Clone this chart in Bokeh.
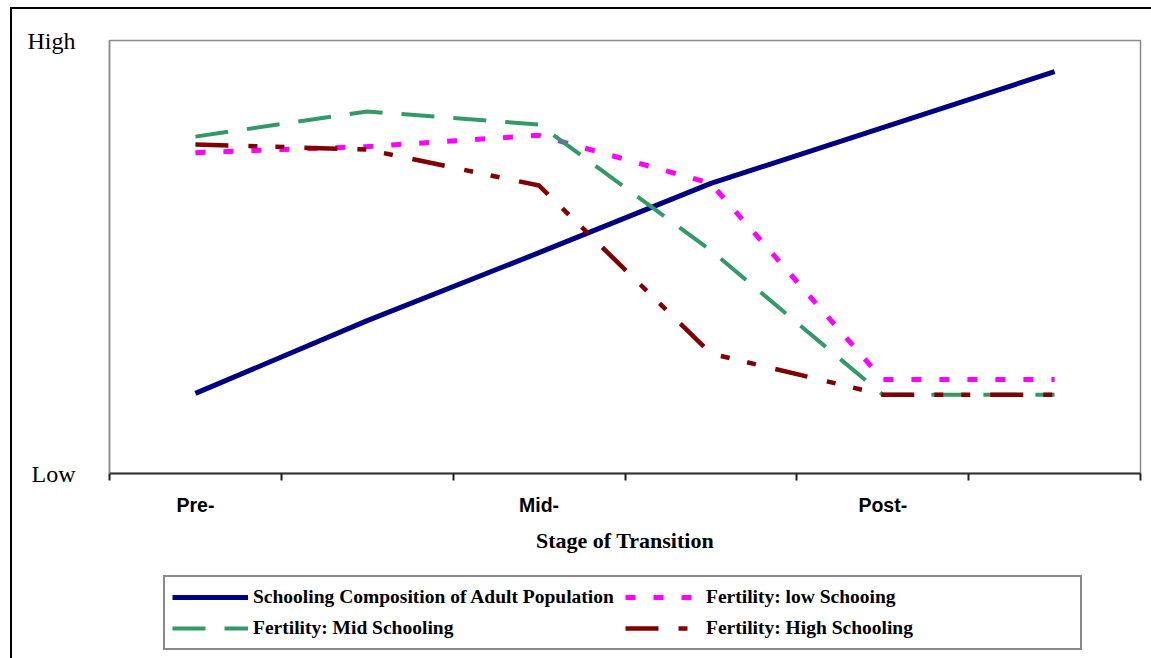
from bokeh.plotting import figure
from bokeh.layouts import column
from bokeh.models import (FixedTicker, Legend, LegendItem, Range1d)
from bokeh.embed import file_html
from bokeh.resources import INLINE

# ---- data (0 = Low, 10 = High) ----
stages = ["Pre-", "", "Mid-", "", "Post-", ""]
schooling = [1.85, 3.53, 5.10, 6.70, 7.99, 9.28]
fert_low = [7.41, 7.55, 7.81, 6.70, 2.17, 2.17]
fert_mid = [7.78, 8.36, 8.06, 5.15, 1.82, 1.82]
fert_high = [7.60, 7.48, 6.65, 2.77, 1.82, 1.82]
y_tick_labels = {0: "Low", 10: "High"}
x_title = "Stage of Transition"
legend_labels = ["Schooling Composition of Adult Population",
                 "Fertility: low Schooing",
                 "Fertility: Mid Schooling",
                 "Fertility: High Schooling"]
all_series = [schooling, fert_low, fert_mid, fert_high]

styles = [dict(line_color="#000080", line_width=5),
          dict(line_color="#FF00FF", line_width=5, line_dash="10 18"),
          dict(line_color="#339966", line_width=4, line_dash="33 19"),
          dict(line_color="#800000", line_width=4.5, line_dash="33 20 9 18 9 20")]

x = [i + 0.5 for i in range(len(stages))]

# canvas starts at (12, 9) in the window: 10/7 px margin + 2 px frame border
p = figure(width=1139, height=551, output_backend="svg", toolbar_location=None,
           x_range=Range1d(0, len(stages)), y_range=Range1d(0, 10),
           min_border_left=97, min_border_right=11, min_border_top=31,
           min_border_bottom=87)
p.background_fill_color = "white"
p.border_fill_color = "white"
p.outline_line_color = "#8a8a8a"
p.outline_line_width = 1.5
p.grid.visible = False

# x axis
xa = p.xaxis[0]
label_pos = [x[i] for i, s in enumerate(stages) if s]
xa.ticker = FixedTicker(ticks=label_pos, minor_ticks=list(range(len(stages) + 1)))
xa.major_label_overrides = {x[i]: s for i, s in enumerate(stages) if s}
xa.major_tick_line_color = None
xa.minor_tick_line_color = "#222222"
xa.minor_tick_line_width = 2
xa.minor_tick_out = 7
xa.minor_tick_in = 0
xa.axis_line_color = "#333333"
xa.axis_line_width = 2
xa.major_label_text_font = "Liberation Sans"
xa.major_label_text_font_style = "bold"
xa.major_label_text_font_size = "19.5px"
xa.major_label_text_color = "black"
xa.major_label_standoff = 13
xa.axis_label = x_title
xa.axis_label_text_font = "Liberation Serif"
xa.axis_label_text_font_style = "bold"
xa.axis_label_text_font_size = "22px"
xa.axis_label_text_color = "black"
xa.axis_label_standoff = 9

# y axis
ya = p.yaxis[0]
ya.ticker = FixedTicker(ticks=list(y_tick_labels.keys()))
ya.major_label_overrides = y_tick_labels
ya.major_tick_line_color = None
ya.minor_tick_line_color = None
ya.axis_line_color = "#8a8a8a"
ya.axis_line_width = 1.5
ya.major_label_text_font = "Liberation Serif"
ya.major_label_text_font_size = "24px"
ya.major_label_text_color = "black"
ya.major_label_standoff = 28

for series, st in zip(all_series, styles):
    p.line(x, series, **st)

# ---- legend strip below the chart ----
# the strip's ranges lie outside the data, so its lines only feed the legend keys
q = figure(width=1139, height=98, output_backend="svg", toolbar_location=None,
           x_axis_location=None, y_axis_location=None,
           x_range=Range1d(100, 101), y_range=Range1d(100, 101),
           min_border_left=97, min_border_right=11, min_border_top=0,
           min_border_bottom=0)
q.outline_line_color = None
q.grid.visible = False
q.background_fill_color = "white"
q.border_fill_color = "white"
items = []
for lab, series, st in zip(legend_labels, all_series, styles):
    r = q.line(x, series, **st)
    items.append(LegendItem(label=lab, renderers=[r]))

legend = Legend(items=items, orientation="horizontal", ncols=2,
                location=(54, 8))
legend.label_text_font = "Liberation Serif"
legend.label_text_font_style = "bold"
legend.label_text_font_size = "19.5px"
legend.label_text_color = "black"
legend.glyph_width = 76
legend.glyph_height = 26
legend.label_height = 26
legend.label_width = 367
legend.label_standoff = 5
legend.spacing = 5
legend.padding = 7
legend.margin = 0
legend.border_line_color = "#111111"
legend.border_line_width = 2.5
legend.background_fill_color = "white"
q.add_layout(legend, "center")

layout = column(p, q, spacing=0)
layout.margin = (7, 0, 0, 10)
layout.styles = {"border-left": "2px solid black", "border-top": "2px solid black"}

open("out.html", "w").write(file_html(layout, INLINE))
